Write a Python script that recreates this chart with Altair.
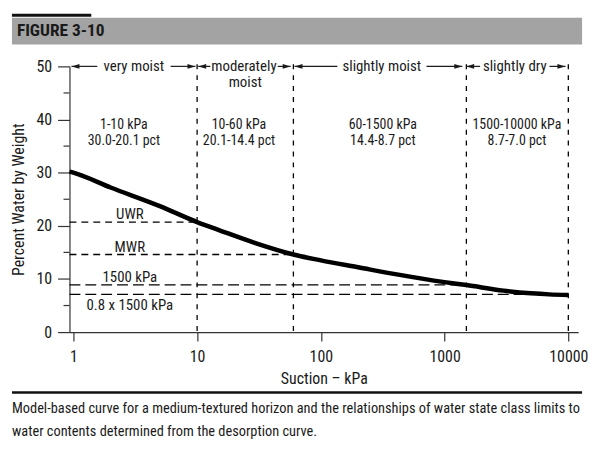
import altair as alt
import pandas as pd

FONT = "Roboto Condensed, Liberation Sans Narrow, Liberation Sans, sans-serif"
INK = "#1a1a1a"

# desorption curve
suction_kpa = [0.93, 1, 2, 5, 10, 15, 30, 60, 100, 200, 400, 1000, 1500, 3000, 5000, 7000, 10000]
water_pct = [30.2, 30.0, 27.2, 23.7, 20.7, 19.2, 16.7, 14.6, 13.5, 12.2, 10.9, 9.4, 8.85, 7.8, 7.3, 7.1, 7.0]

# class boundaries (vertical dashed lines)
boundary_kpa = [10, 60, 1500, 10000]

# water-state limits (horizontal dashed lines)
limit_names = ["UWR", "MWR", "1500 kPa", "0.8 x 1500 kPa"]
limit_pct = [20.7, 14.6, 8.9, 7.1]
limit_end_kpa = [10, 60, 1500, 10000]
limit_label_pct = [22.2, 16.0, 10.4, 5.0]
limit_dash = ["short", "short", "long", "long"]

# class names on top row
class_names = ["very moist", "moderately", "moist", "slightly moist", "slightly dry"]
class_x = [3.08, 23.9, 24.5, 311, 3690]
class_y = [50, 50, 47.1, 50, 50]

# arrow shafts and heads on the top row
shaft_start = [0.965, 6.1, 10.2, 44.8, 61.3, 714, 1490, 7040]
shaft_end = [1.56, 9.7, 12.8, 57, 136, 1390, 1935, 9500]
head_left_kpa = [1.04, 11.0, 66, 1610]
head_right_kpa = [9.0, 52.9, 1290, 8790]

# range labels
range_kpa_text = ["1-10 kPa", "10-60 kPa", "60-1500 kPa", "1500-10000 kPa"]
range_pct_text = ["30.0-20.1 pct", "20.1-14.4 pct", "14.4-8.7 pct", "8.7-7.0 pct"]
range_x = [2.56, 21.8, 317, 3842]

x_ticks = [1, 10, 100, 1000, 10000]
y_ticks = [0, 10, 20, 30, 40, 50]
y_minor = [5, 15, 25, 35, 45]

caption = [
    "Model-based curve for a medium-textured horizon and the relationships of water state class limits to",
    "water contents determined from the desorption curve.",
]

XS = alt.Scale(type="log", domain=[0.93, 12000], nice=False)
YS = alt.Scale(domain=[0, 50], nice=False, zero=False)

curve_df = pd.DataFrame({"kpa": suction_kpa, "pct": water_pct})
bnd_df = pd.DataFrame({"kpa": boundary_kpa, "top": [50.4] * 4, "bot": [0] * 4})
lim_df = pd.DataFrame({"name": limit_names, "pct": limit_pct, "end": limit_end_kpa,
                       "lab": limit_label_pct, "dash": limit_dash, "start": [0.93] * 4,
                       "lx": [2.86] * 4})
cls_df = pd.DataFrame({"name": class_names, "kpa": class_x, "pct": class_y})
shaft_df = pd.DataFrame({"a": shaft_start, "b": shaft_end, "pct": [50] * len(shaft_start)})
hl_df = pd.DataFrame({"kpa": head_left_kpa, "pct": [50] * 4})
hr_df = pd.DataFrame({"kpa": head_right_kpa, "pct": [50] * 4})
rng_df = pd.DataFrame({"t1": range_kpa_text, "t2": range_pct_text, "kpa": range_x,
                       "y1": [38.9] * 4, "y2": [36.0] * 4})
minor_df = pd.DataFrame({"pct": y_minor})
one = pd.DataFrame({"k": [0]})

xenc = alt.X("kpa:Q", scale=XS,
             axis=alt.Axis(values=x_ticks, format="d", title="Suction \u2013 kPa", grid=False,
                           tickSize=9, labelPadding=8, titlePadding=6))
yenc = alt.Y("pct:Q", scale=YS,
             axis=alt.Axis(values=y_ticks, title="Percent Water by Weight", grid=False,
                           tickSize=12, labelPadding=6, titlePadding=10))

curve = alt.Chart(curve_df).mark_line(color="black", strokeWidth=4.5, interpolate="monotone").encode(
    x=xenc, y=yenc)

bnd = alt.Chart(bnd_df).mark_rule(color="black", strokeWidth=1.3, strokeDash=[5, 6]).encode(
    x=alt.X("kpa:Q", scale=XS), y=alt.Y("top:Q", scale=YS), y2="bot:Q")

lim_short = alt.Chart(lim_df[lim_df.dash == "short"]).mark_rule(
    color="black", strokeWidth=1.3, strokeDash=[7, 5]).encode(
    x=alt.X("start:Q", scale=XS), x2="end:Q", y=alt.Y("pct:Q", scale=YS))
lim_long = alt.Chart(lim_df[lim_df.dash == "long"]).mark_rule(
    color="black", strokeWidth=1.3, strokeDash=[11, 5]).encode(
    x=alt.X("start:Q", scale=XS), x2="end:Q", y=alt.Y("pct:Q", scale=YS))
lim_text = alt.Chart(lim_df).mark_text(font=FONT, fontSize=15, color=INK).encode(
    x=alt.X("lx:Q", scale=XS), y=alt.Y("lab:Q", scale=YS), text="name:N")

cls_text = alt.Chart(cls_df).mark_text(font=FONT, fontSize=15, color=INK).encode(
    x=alt.X("kpa:Q", scale=XS), y=alt.Y("pct:Q", scale=YS), text="name:N")
shafts = alt.Chart(shaft_df).mark_rule(color=INK, strokeWidth=1.2).encode(
    x=alt.X("a:Q", scale=XS), x2="b:Q", y=alt.Y("pct:Q", scale=YS))
heads_l = alt.Chart(hl_df).mark_point(shape="M-1,0L1,-0.6L1,0.6Z", filled=True, size=64,
                                      color=INK, opacity=1).encode(
    x=alt.X("kpa:Q", scale=XS), y=alt.Y("pct:Q", scale=YS))
heads_r = alt.Chart(hr_df).mark_point(shape="M1,0L-1,-0.6L-1,0.6Z", filled=True, size=64,
                                      color=INK, opacity=1).encode(
    x=alt.X("kpa:Q", scale=XS), y=alt.Y("pct:Q", scale=YS))

rng1 = alt.Chart(rng_df).mark_text(font=FONT, fontSize=14, color=INK).encode(
    x=alt.X("kpa:Q", scale=XS), y=alt.Y("y1:Q", scale=YS), text="t1:N")
rng2 = alt.Chart(rng_df).mark_text(font=FONT, fontSize=14, color=INK).encode(
    x=alt.X("kpa:Q", scale=XS), y=alt.Y("y2:Q", scale=YS), text="t2:N")

minor = alt.Chart(minor_df).mark_rule(color="#333", strokeWidth=1.2).encode(
    x=alt.value(-6), x2=alt.value(0), y=alt.Y("pct:Q", scale=YS))

# header
gray_bar = alt.Chart(one).mark_rect(color="#a3a3a3").encode(
    x=alt.value(-58), x2=alt.value(517), y=alt.value(-49), y2=alt.value(-22))
black_bar = alt.Chart(one).mark_rect(color="#111").encode(
    x=alt.value(-58), x2=alt.value(22), y=alt.value(-53), y2=alt.value(-50))
fig_title = alt.Chart(one).mark_text(text="FIGURE 3-10", font=FONT, fontSize=17.5, fontWeight="bold",
                                     color="#1a1a1a", align="left", baseline="middle").encode(
    x=alt.value(-53), y=alt.value(-36))

# caption
cap_line = alt.Chart(one).mark_rule(color="#111", strokeWidth=2.5).encode(
    x=alt.value(-58), x2=alt.value(517), y=alt.value(329))
cap_df = pd.DataFrame({"t": caption, "yy": [346, 369]})
cap_text = alt.Chart(cap_df).mark_text(font=FONT, fontSize=14.5, color=INK, align="left",
                                       baseline="middle").encode(
    x=alt.value(-58), y=alt.Y("yy:Q", scale=None), text="t:N")

chart = alt.layer(
    gray_bar, black_bar, fig_title, cap_line, cap_text,
    bnd, lim_short, lim_long, lim_text, cls_text, shafts, heads_l, heads_r, rng1, rng2, minor, curve
).properties(
    width=513, height=268,
    padding={"left": 62, "top": 57, "right": 14, "bottom": 113},
    autosize=alt.AutoSizeParams(type="none"),
).configure_view(stroke=None).configure_axis(
    domainColor="#333", domainWidth=1.2, tickColor="#333", tickWidth=1.2,
    labelFont=FONT, titleFont=FONT, labelFontSize=16, titleFontSize=16,
    labelColor=INK, titleColor=INK, titleFontWeight="normal",
)

chart.save("out.html", embed_options={"renderer": "svg", "actions": False})
